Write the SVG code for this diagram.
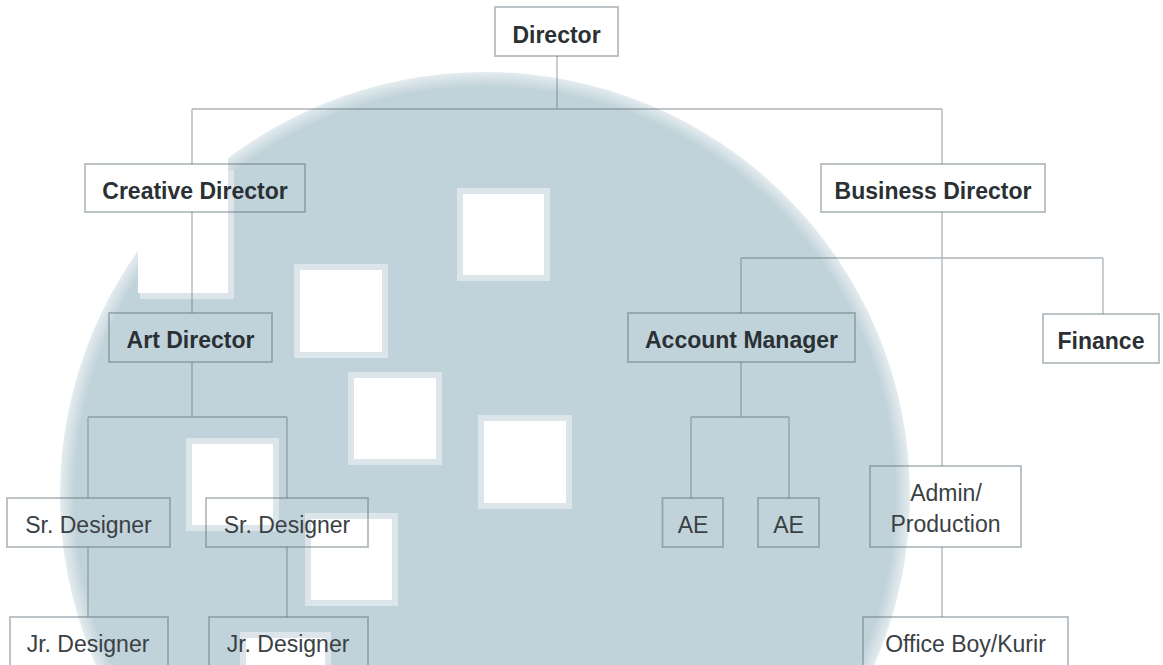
<svg xmlns="http://www.w3.org/2000/svg" width="1163" height="665" viewBox="0 0 1163 665">
  <style>
    .box { fill: none; stroke: #5a6a70; stroke-opacity: 0.45; stroke-width: 1.8; }
    .wire { fill: none; stroke: #5a6a70; stroke-opacity: 0.5; stroke-width: 1.3; }
    .b { font-family: "Liberation Sans", Arial, sans-serif; font-size: 23px; font-weight: bold; fill: #2a3034; text-anchor: middle; }
    .r { font-family: "Liberation Sans", Arial, sans-serif; font-size: 23px; fill: #3a4144; text-anchor: middle; }
    .sq { fill: #ffffff; stroke: #dce6ea; stroke-width: 6; }
  </style>
  <defs>
    <radialGradient id="disc" cx="0.5" cy="0.5" r="0.5">
      <stop offset="0" stop-color="#c1d3da"/>
      <stop offset="0.965" stop-color="#c1d3da"/>
      <stop offset="1" stop-color="#e4ecef"/>
    </radialGradient>
  </defs>
  <rect x="0" y="0" width="1163" height="665" fill="#ffffff"/>
  <g id="background">
    <ellipse cx="485" cy="495" rx="425" ry="423" fill="url(#disc)"/>
    <rect x="138" y="158" width="90" height="135" fill="#ffffff"/>
    <path d="M231 170 V296 H140" fill="none" stroke="#dce6ea" stroke-width="6"/>
    <rect class="sq" x="460" y="191" width="87" height="87"/>
    <rect class="sq" x="297" y="267" width="88" height="88"/>
    <rect class="sq" x="351" y="375" width="88" height="87"/>
    <rect class="sq" x="481" y="418" width="88" height="88"/>
    <rect class="sq" x="189" y="441" width="87" height="87"/>
    <rect class="sq" x="308" y="516" width="87" height="87"/>
    <rect class="sq" x="243" y="635" width="85" height="85"/>
  </g>
  <g id="connectors">
    <path class="wire" d="M557 56 V109 M192 109 H942 M192 109 V164 M942 109 V164"/>
    <path class="wire" d="M192 212 V313 M192 362 V417 M88 417 H287 M88 417 V498 M287 417 V498 M88 547 V617 M287 547 V617"/>
    <path class="wire" d="M942 212 V466 M942 547 V617 M741 258 H1103 M741 258 V313 M1103 258 V314"/>
    <path class="wire" d="M741 362 V417 M691 417 H789 M691 417 V498 M789 417 V498"/>
  </g>
  <g id="n-director"><rect class="box" x="495" y="7" width="123" height="49"/><text class="b" x="556.5" y="43">Director</text></g>
  <g id="n-creative"><rect class="box" x="85" y="164" width="220" height="48"/><text class="b" x="195" y="199">Creative Director</text></g>
  <g id="n-business"><rect class="box" x="821" y="164" width="224" height="48"/><text class="b" x="933" y="199">Business Director</text></g>
  <g id="n-art"><rect class="box" x="109" y="313" width="163" height="49"/><text class="b" x="190.5" y="348">Art Director</text></g>
  <g id="n-account"><rect class="box" x="628" y="313" width="227" height="49"/><text class="b" x="741.5" y="348">Account Manager</text></g>
  <g id="n-finance"><rect class="box" x="1043" y="314" width="116" height="49"/><text class="b" x="1101" y="349">Finance</text></g>
  <g id="n-sr1"><rect class="box" x="7" y="498" width="163" height="49"/><text class="r" x="88.5" y="533">Sr. Designer</text></g>
  <g id="n-sr2"><rect class="box" x="206" y="498" width="162" height="49"/><text class="r" x="287" y="533">Sr. Designer</text></g>
  <g id="n-ae1"><rect class="box" x="662.5" y="498" width="60.5" height="49"/><text class="r" x="693" y="533">AE</text></g>
  <g id="n-ae2"><rect class="box" x="758" y="498" width="61" height="49"/><text class="r" x="788.5" y="533">AE</text></g>
  <g id="n-admin"><rect class="box" x="870" y="466" width="151" height="81"/><text class="r" x="946" y="501">Admin/</text><text class="r" x="945.5" y="532">Production</text></g>
  <g id="n-jr1"><rect class="box" x="10" y="617" width="158" height="55"/><text class="r" x="88" y="652">Jr. Designer</text></g>
  <g id="n-jr2"><rect class="box" x="209" y="617" width="159" height="55"/><text class="r" x="288" y="652">Jr. Designer</text></g>
  <g id="n-office"><rect class="box" x="863" y="617" width="205" height="55"/><text class="r" x="965.5" y="652">Office Boy/Kurir</text></g>
</svg>
